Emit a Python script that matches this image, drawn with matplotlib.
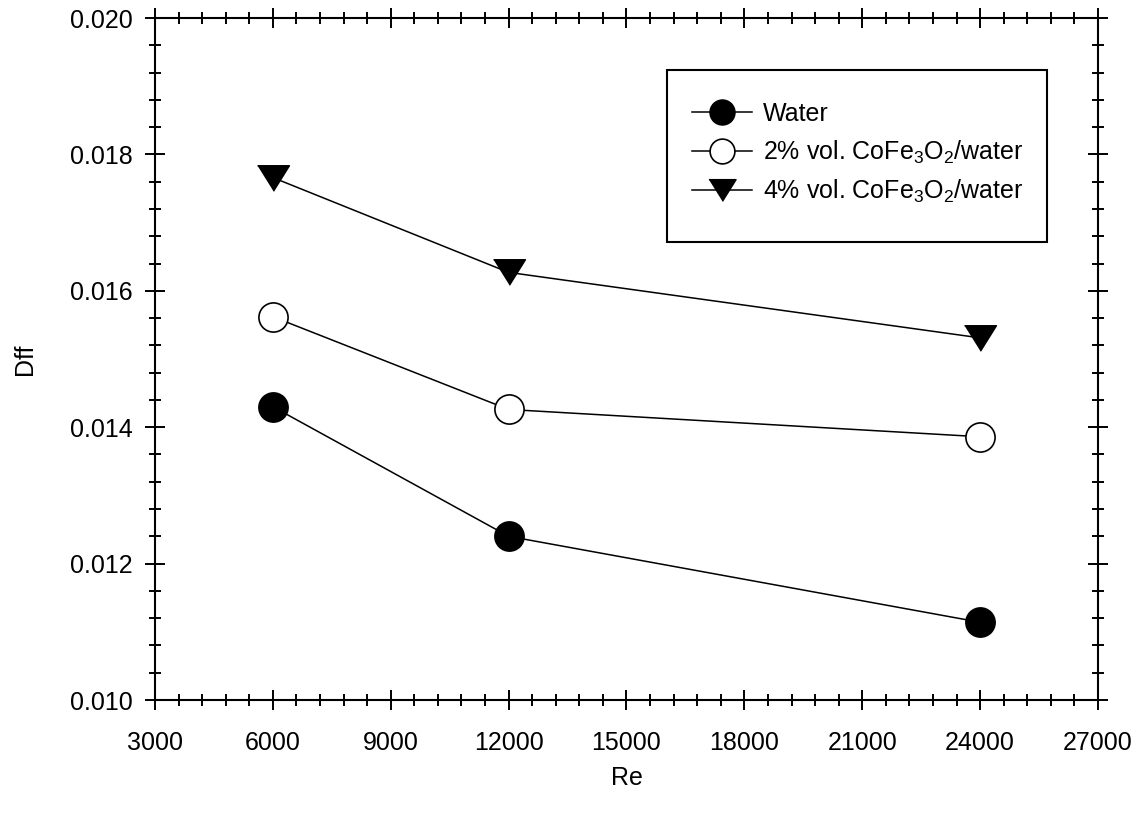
import matplotlib
matplotlib.use("Agg")
import matplotlib.pyplot as plt
from matplotlib.ticker import MultipleLocator, FormatStrFormatter
from matplotlib.patches import Rectangle

plt.rcParams['font.family'] = ['Liberation Sans', 'DejaVu Sans']
plt.rcParams['mathtext.fontset'] = 'custom'
plt.rcParams['mathtext.rm'] = 'Liberation Sans'
plt.rcParams['mathtext.it'] = 'Liberation Sans:italic'

re_vals = [6000, 12000, 24000]
water = [0.01430, 0.01240, 0.01114]
vol2 = [0.01562, 0.01426, 0.01386]
vol4 = [0.01766, 0.01627, 0.01531]
labels = ['Water', r'2% vol. CoFe$_3$O$_2$/water', r'4% vol. CoFe$_3$O$_2$/water']

fig = plt.figure(figsize=(11.43, 8.14), dpi=100)
ax = fig.add_axes([155/1143, 114/814, 943/1143, 682/814])

tri = [(-1, 0.8), (1, 0.8), (0, -0.8)]
lw = 1.1
ax.plot(re_vals, water, '-', color='black', lw=lw, marker='o', ms=21,
        mfc='black', mec='black', mew=1.2, label=labels[0])
ax.plot(re_vals, vol2, '-', color='black', lw=lw, marker='o', ms=21,
        mfc='white', mec='black', mew=1.2, label=labels[1])
ax.plot(re_vals, vol4, '-', color='black', lw=lw, marker=tri, ms=23,
        mfc='black', mec='black', mew=1.0, label=labels[2])

ax.set_xlim(3000, 27000)
ax.set_ylim(0.010, 0.020)
ax.xaxis.set_major_locator(MultipleLocator(3000))
ax.xaxis.set_minor_locator(MultipleLocator(600))
ax.yaxis.set_major_locator(MultipleLocator(0.002))
ax.yaxis.set_minor_locator(MultipleLocator(0.0004))
ax.yaxis.set_major_formatter(FormatStrFormatter('%.3f'))

for s in ax.spines.values():
    s.set_linewidth(1.5)
ax.tick_params(which='both', direction='inout', top=True, right=True,
               width=1.4, labelsize=18)
ax.tick_params(which='major', length=14)
ax.tick_params(which='minor', length=8)
ax.tick_params(axis='x', which='major', pad=15.5)
ax.tick_params(axis='y', which='major', pad=9)

ax.set_xlabel('Re', fontsize=18, labelpad=8)
ax.set_ylabel('Dff', fontsize=18, labelpad=24)

# legend frame
x0, x1 = (667 - 155) / 943, (1047 - 155) / 943
ytop, ybot = (700 - 70) / 682, (700 - 242) / 682
ax.add_patch(Rectangle((x0, ybot), x1 - x0, ytop - ybot, transform=ax.transAxes,
                       facecolor='white', edgecolor='black', lw=1.5, zorder=4))

leg = ax.legend(loc='upper left', bbox_to_anchor=(0.5356, 0.924), borderaxespad=0,
                fontsize=18, handlelength=2.4, handletextpad=0.45, borderpad=1.28,
                labelspacing=0.5, frameon=False, markerscale=0.85)
leg.set_zorder(5)

fig.savefig('out.png', dpi=100)
